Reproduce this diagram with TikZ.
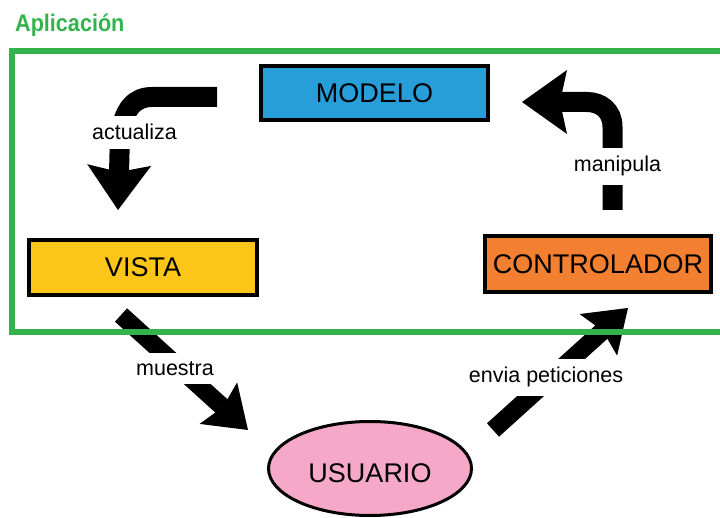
\documentclass[tikz,border=0pt]{standalone}
\usepackage{fontspec}
\setmainfont{Liberation Sans}
\usetikzlibrary{arrows.meta,shapes.geometric}
\definecolor{appgreen}{RGB}{52,178,77}
\definecolor{modelblue}{RGB}{40,158,216}
\definecolor{viewyellow}{RGB}{252,198,24}
\definecolor{ctrlorange}{RGB}{242,128,48}
\definecolor{userpink}{RGB}{245,168,200}

\begin{document}
\begin{tikzpicture}[x=1pt,y=-1pt,
  component/.style={draw=black, line width=4pt, minimum width=227pt, minimum height=54pt,
    inner sep=0pt, font=\fontsize{27}{32}\selectfont},
  bigarrow/.style={line width=20pt, -{Stealth[length=45pt,width=64pt,inset=7pt,line width=0pt]}},
  diagarrow/.style={line width=18pt, -{Stealth[length=40pt,width=56pt,inset=6pt,line width=0pt]}},
  flowlabel/.style={fill=white, inner xsep=4pt, inner ysep=8.5pt, anchor=base,
    font=\fontsize{21.5}{26}\selectfont},
]
\useasboundingbox (0,0) rectangle (720,518);
\clip (0,0) rectangle (720,518);

% components
\node[component, fill=modelblue]  (modelo)      at (374.5,93.5) {MODELO};
\node[component, fill=viewyellow, minimum width=228pt, minimum height=55pt] (vista) at (143,267.5) {VISTA};
\node[component, fill=ctrlorange, minimum width=226pt, minimum height=56pt] (controlador) at (598,264) {CONTROLADOR};
\node[ellipse, draw=black, line width=3pt, fill=userpink, minimum width=203pt, minimum height=94pt,
  inner sep=0pt, text height=27.3pt, text depth=0pt, font=\fontsize{27}{32}\selectfont]
  (usuario) at (370,468.5) {USUARIO};

% arrow end points
\coordinate (act-s) at (217,97);
\coordinate (act-e) at (118,210);
\coordinate (man-s) at (612.5,210);
\coordinate (man-e) at (522,102);
\coordinate (mue-s) at (121,315);
\coordinate (mue-e) at (248,430);
\coordinate (env-s) at (493,430);
\coordinate (env-e) at (628,308);

% thick flow arrows
\draw[bigarrow] (act-s) -- (152,97) .. controls (135,97) and (124,108) .. (120,135) -- (act-e);
\draw[bigarrow] (man-s) -- (612.5,127) .. controls (612.5,110) and (600,102) .. (587,102) -- (man-e);
\draw[diagarrow] (mue-s) -- (mue-e);
\draw[diagarrow] (env-s) -- (env-e);

% arrow labels
\node[flowlabel] (l-act) at (134.5,140) {actualiza};
\node[flowlabel] (l-man) at (617.5,172) {manipula};
\node[flowlabel] (l-mue) at (175,375) {muestra};
\node[flowlabel] (l-env) at (546,383) {envia peticiones};

% application frame
\draw[appgreen, line width=6pt] (11.5,51.5) rectangle (740,332);
\node[anchor=base west, inner sep=0pt, xscale=0.9, text=appgreen,
  font=\fontsize{24}{28}\selectfont\bfseries] (titulo) at (15,32) {Aplicación};
\end{tikzpicture}
\end{document}
